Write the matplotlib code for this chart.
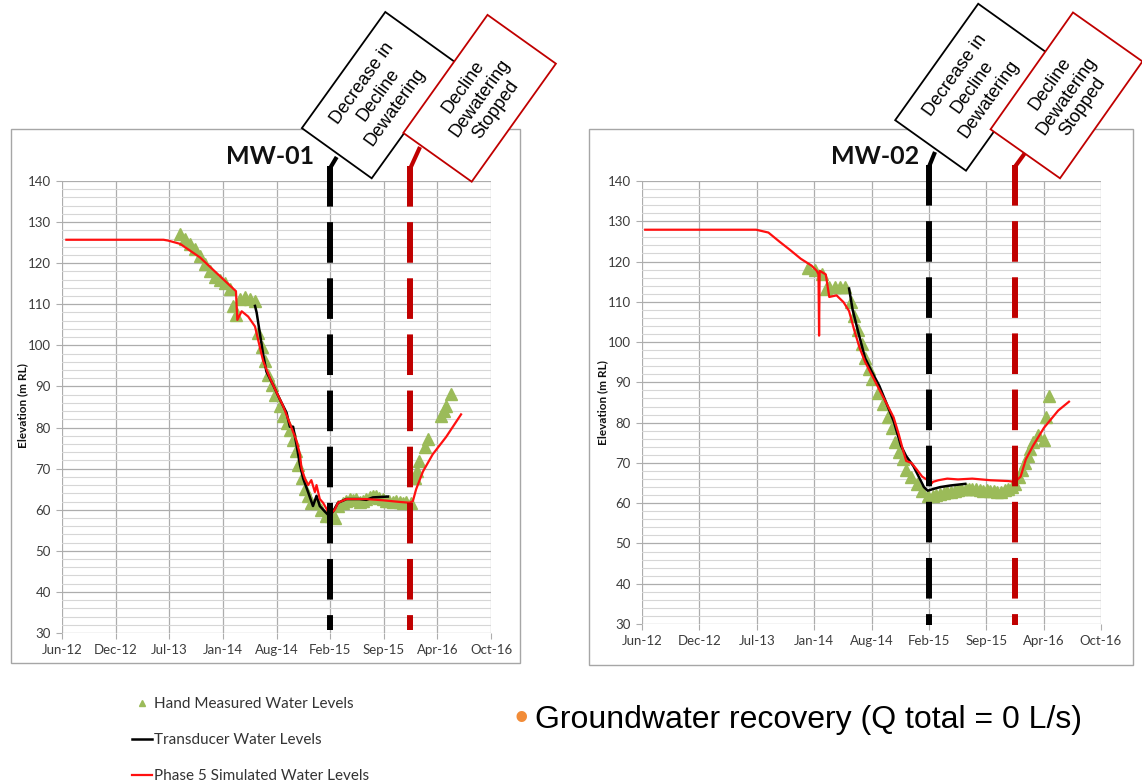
import numpy as np
import matplotlib
matplotlib.use('Agg')
import matplotlib.pyplot as plt
import matplotlib.dates as mdates
import matplotlib.transforms as mtransforms
from matplotlib.patches import Rectangle
from matplotlib.lines import Line2D

# date axis: one label every 197 days from mid June 2012
axis_start = '2012-06-15'
tick_step_days = 197
tick_labels = ['Jun-12', 'Dec-12', 'Jul-13', 'Jan-14', 'Aug-14', 'Feb-15', 'Sep-15', 'Apr-16', 'Oct-16']
y_ticks = [30, 40, 50, 60, 70, 80, 90, 100, 110, 120, 130, 140]

decrease_date = '2015-02-25'
stopped_date = '2015-12-17'

# MW-01
mw01_sim_dates = ['2012-07-01', '2013-06-23', '2013-07-10', '2013-08-23', '2013-11-04', '2014-01-04',
                  '2014-03-06', '2014-03-16', '2014-03-21', '2014-04-06', '2014-04-30', '2014-05-25',
                  '2014-06-06', '2014-06-24', '2014-07-19', '2014-08-12', '2014-09-05', '2014-09-30',
                  '2014-10-24', '2014-11-06', '2014-11-12', '2014-11-24', '2014-12-06', '2014-12-18',
                  '2014-12-31', '2015-01-06', '2015-01-18', '2015-01-30', '2015-02-17', '2015-03-02',
                  '2015-03-14', '2015-03-26', '2015-04-26', '2015-07-08', '2015-09-07', '2015-11-07',
                  '2015-12-14', '2015-12-26', '2016-01-07', '2016-02-01', '2016-03-08', '2016-04-26',
                  '2016-06-20']
mw01_sim_levels = [125.7, 125.7, 125.5, 124.7, 121.4, 117.6,
                   113.8, 113.2, 106.2, 108.3, 107.0, 104.6,
                   101.2, 96.2, 92.0, 88.6, 85.3, 81.0,
                   76.9, 73.5, 70.1, 67.6, 66.0, 67.2,
                   64.3, 66.0, 62.6, 61.7, 59.6, 59.2,
                   60.0, 61.7, 62.6, 62.6, 62.3, 61.9,
                   61.7, 62.1, 65.0, 69.3, 73.5, 77.7,
                   83.2]
mw01_trans_dates = ['2014-05-25', '2014-05-31', '2014-06-12', '2014-06-24', '2014-07-06', '2014-07-31',
                    '2014-08-24', '2014-09-18', '2014-09-30', '2014-10-12', '2014-10-24', '2014-11-06',
                    '2014-11-18', '2014-12-06', '2014-12-24', '2015-01-06', '2015-01-18', '2015-02-05',
                    '2015-02-23', '2015-03-08', '2015-03-26', '2015-04-26', '2015-06-13', '2015-07-08',
                    '2015-08-01', '2015-09-25']
mw01_trans_levels = [109.6, 108.0, 102.9, 97.8, 93.6, 90.3,
                     86.9, 83.6, 80.2, 80.2, 76.0, 71.0,
                     67.6, 64.3, 60.9, 63.4, 60.9, 59.6,
                     58.4, 59.6, 61.7, 62.6, 62.6, 62.4,
                     63.0, 63.2]
mw01_hand_dates = ['2013-08-23', '2013-09-10', '2013-09-28', '2013-10-17', '2013-11-04', '2013-11-22',
                   '2013-12-11', '2013-12-29', '2014-01-16', '2014-02-04', '2014-02-22', '2014-03-06',
                   '2014-03-18', '2014-03-31', '2014-04-18', '2014-05-06', '2014-05-25', '2014-06-06',
                   '2014-06-18', '2014-06-30', '2014-07-12', '2014-07-25', '2014-08-06', '2014-08-24',
                   '2014-09-05', '2014-09-18', '2014-09-30', '2014-10-12', '2014-10-24', '2014-10-30',
                   '2014-11-12', '2014-11-24', '2014-12-06', '2014-12-18', '2015-01-06', '2015-01-24',
                   '2015-02-11', '2015-03-02', '2015-03-14', '2015-03-26', '2015-04-13', '2015-04-25',
                   '2015-05-08', '2015-05-20', '2015-06-01', '2015-06-14', '2015-06-26', '2015-07-08',
                   '2015-07-20', '2015-08-01', '2015-08-13', '2015-08-25', '2015-09-07', '2015-09-19',
                   '2015-10-01', '2015-10-14', '2015-10-26', '2015-11-07', '2015-11-19', '2015-12-01',
                   '2015-12-20', '2016-01-01', '2016-01-10', '2016-01-19', '2016-02-07', '2016-02-19',
                   '2016-04-08', '2016-04-17', '2016-04-26', '2016-05-14']
mw01_hand_levels = [127.2, 126.0, 124.7, 123.5, 121.8, 119.7,
                    118.0, 116.7, 115.9, 115.1, 113.8, 109.6,
                    107.5, 111.3, 111.7, 111.3, 110.9, 102.9,
                    99.5, 96.2, 92.8, 90.3, 87.8, 85.3,
                    82.7, 81.0, 79.4, 76.9, 74.3, 71.0,
                    67.6, 65.1, 63.4, 61.7, 61.7, 60.0,
                    58.4, 58.4, 58.0, 60.9, 61.7, 62.2,
                    62.6, 62.4, 62.6, 62.0, 62.2, 62.5,
                    63.0, 63.3, 63.4, 62.8, 62.6, 62.1,
                    62.2, 61.9, 62.2, 61.8, 61.7, 61.9,
                    61.7, 67.6, 69.5, 71.8, 75.2, 77.3,
                    82.7, 84.0, 85.3, 88.2]

# MW-02
mw02_sim_dates = ['2012-06-26', '2013-07-12', '2013-08-23', '2013-09-29', '2013-11-05', '2013-12-12',
                  '2014-01-18', '2014-02-05', '2014-02-11', '2014-02-13', '2014-02-15', '2014-03-08',
                  '2014-03-20', '2014-04-14', '2014-05-08', '2014-05-27', '2014-06-14', '2014-07-02',
                  '2014-07-21', '2014-08-14', '2014-09-08', '2014-10-03', '2014-10-27', '2014-11-14',
                  '2014-11-27', '2014-12-09', '2014-12-27', '2015-01-15', '2015-02-02', '2015-02-21',
                  '2015-03-05', '2015-03-11', '2015-03-30', '2015-04-29', '2015-06-05', '2015-07-24',
                  '2015-09-24', '2015-11-24', '2015-12-18', '2016-01-06', '2016-01-24', '2016-02-18',
                  '2016-03-26', '2016-05-14', '2016-06-20']
mw02_sim_levels = [127.9, 127.9, 127.2, 125.0, 122.9, 120.7,
                   119.0, 117.7, 116.8, 101.6, 117.7, 116.8,
                   111.2, 111.6, 109.9, 107.7, 102.9, 98.6,
                   95.1, 91.7, 88.2, 84.7, 81.3, 77.0,
                   73.5, 70.5, 70.0, 68.3, 66.6, 65.7,
                   64.8, 65.3, 65.7, 66.1, 65.9, 66.1,
                   65.7, 65.5, 65.3, 66.6, 70.9, 74.3,
                   78.7, 83.0, 85.2]
mw02_trans_dates = ['2014-05-27', '2014-06-08', '2014-06-26', '2014-07-21', '2014-08-14', '2014-09-08',
                    '2014-10-03', '2014-10-27', '2014-11-21', '2014-12-09', '2015-01-03', '2015-01-21',
                    '2015-02-08', '2015-02-21', '2015-03-11', '2015-04-05', '2015-05-11', '2015-06-30']
mw02_trans_levels = [113.3, 108.1, 102.9, 96.0, 92.5, 89.1,
                     84.7, 80.4, 74.3, 71.7, 69.2, 66.6,
                     64.0, 63.1, 63.5, 64.0, 64.4, 64.8]
mw02_hand_dates = ['2014-01-05', '2014-01-30', '2014-02-24', '2014-03-08', '2014-03-20', '2014-04-08',
                   '2014-04-26', '2014-05-14', '2014-06-02', '2014-06-14', '2014-06-26', '2014-07-09',
                   '2014-07-21', '2014-08-02', '2014-08-14', '2014-09-02', '2014-09-20', '2014-10-09',
                   '2014-10-21', '2014-11-02', '2014-11-14', '2014-11-27', '2014-12-09', '2014-12-27',
                   '2015-01-15', '2015-02-02', '2015-02-21', '2015-03-11', '2015-03-23', '2015-04-05',
                   '2015-04-17', '2015-04-29', '2015-05-11', '2015-05-24', '2015-06-05', '2015-06-17',
                   '2015-07-01', '2015-07-12', '2015-07-24', '2015-08-06', '2015-08-18', '2015-08-30',
                   '2015-09-12', '2015-09-24', '2015-10-06', '2015-10-18', '2015-10-30', '2015-11-12',
                   '2015-11-24', '2015-12-06', '2015-12-18', '2015-12-30', '2016-01-12', '2016-01-21',
                   '2016-01-30', '2016-02-08', '2016-02-18', '2016-03-07', '2016-03-26', '2016-04-01',
                   '2016-04-13']
mw02_hand_levels = [118.5, 118.0, 116.8, 113.3, 113.8, 113.8,
                    113.8, 113.8, 109.9, 106.4, 102.9, 99.5,
                    96.0, 93.4, 90.8, 87.3, 84.7, 81.3,
                    78.7, 75.2, 72.6, 70.9, 68.3, 66.6,
                    64.8, 63.1, 61.8, 61.8, 62.0, 62.2,
                    62.5, 62.7, 62.9, 63.1, 63.3, 63.5,
                    63.6, 63.5, 63.5, 63.4, 63.2, 63.1,
                    63.3, 63.0, 63.1, 62.9, 62.7, 63.2,
                    63.5, 64.0, 64.8, 66.5, 68.3, 70.0,
                    71.7, 73.5, 75.2, 77.0, 75.6, 81.3,
                    86.5]

series_names = ['Hand Measured Water Levels', 'Transducer Water Levels', 'Phase 5 Simulated Water Levels']
event_labels = ['Decrease in\nDecline\nDewatering', 'Decline\nDewatering\nStopped']
bullet_text = 'Groundwater recovery (Q total = 0 L/s)'

green = '#9BBB59'
dark_red = '#C00000'
label_color = '#3C3C3C'
chart_font = 'Lato'
box_font = 'Liberation Sans'

W, H = 1142, 784
fig = plt.figure(figsize=(W / 100, H / 100), dpi=100)
fig.patch.set_facecolor('white')
inch = fig.dpi_scale_trans


def at(x, y):
    # pixel position from the top left corner -> inches from bottom left
    return x / 100.0, (H - y) / 100.0


def dnum(dates):
    return mdates.date2num(np.array(dates, dtype='datetime64[D]'))


tick_pos = dnum(np.datetime64(axis_start) + np.arange(len(tick_labels)) * np.timedelta64(tick_step_days, 'D'))

# per chart layout (pixels): chart box, plot area, title, y label, event lines, callout boxes
panels = [
    dict(name='MW-01', frame=(11, 129, 520, 663), plot=(62, 181, 491, 633),
         title=(270, 157), ylab=(23, 406), line_top=166, line_bottom=630,
         boxes=[((371.7, 178.3), 143, 86, 54.3, 'black', (336.7, 157)),
                ((471.7, 181.7), 145, 84, 54.5, dark_red, (420, 147))],
         sim=(mw01_sim_dates, mw01_sim_levels), trans=(mw01_trans_dates, mw01_trans_levels),
         hand=(mw01_hand_dates, mw01_hand_levels)),
    dict(name='MW-02', frame=(589, 129, 1133, 665), plot=(642, 181, 1101, 624),
         title=(875, 157), ylab=(603, 403), line_top=165, line_bottom=625,
         boxes=[((966, 170.7), 143, 87, 54.5, 'black', (935, 152)),
                ((1060, 178.3), 143, 85, 54.8, dark_red, (1025, 153))],
         sim=(mw02_sim_dates, mw02_sim_levels), trans=(mw02_trans_dates, mw02_trans_levels),
         hand=(mw02_hand_dates, mw02_hand_levels)),
]

handles = None
for p in panels:
    fx0, fy0, fx1, fy1 = p['frame']
    fig.add_artist(Rectangle(at(fx0, fy1), (fx1 - fx0) / 100, (fy1 - fy0) / 100, transform=inch,
                             fill=False, ec='#A6A6A6', lw=1.0, zorder=0))

    l, t, r, b = p['plot']
    ax = fig.add_axes([l / W, (H - b) / H, (r - l) / W, (b - t) / H])
    ax.set_facecolor('white')

    hand, = ax.plot(dnum(p['hand'][0]), p['hand'][1], linestyle='none', marker='^', ms=9,
                    color=green, mec=green, zorder=2)
    trans, = ax.plot(dnum(p['trans'][0]), p['trans'][1], color='black', lw=1.8, zorder=3)
    sim, = ax.plot(dnum(p['sim'][0]), p['sim'][1], color='#FF1010', lw=1.6, zorder=4)
    if handles is None:
        handles = [hand, trans, sim]

    ax.set_xlim(tick_pos[0], tick_pos[-1])
    ax.set_ylim(y_ticks[0], y_ticks[-1])
    ax.set_xticks(tick_pos)
    ax.set_xticklabels(tick_labels)
    ax.set_yticks(y_ticks)
    ax.set_yticks(np.arange(y_ticks[0], y_ticks[-1] + 1, 2), minor=True)
    ax.grid(which='major', axis='both', color='#ADADAD', lw=0.9)
    ax.grid(which='minor', axis='y', color='#D6D6D6', lw=0.8)
    ax.set_axisbelow(True)
    for s in ax.spines.values():
        s.set_visible(False)
    ax.tick_params(which='major', length=4, color='#ADADAD', pad=4, labelcolor=label_color, labelsize=9.5)
    ax.tick_params(which='minor', length=0)
    for lab in ax.get_xticklabels() + ax.get_yticklabels():
        lab.set_family(chart_font)

    fig.text(p['title'][0] / W, 1 - p['title'][1] / H, p['name'], family=chart_font, weight='bold',
             fontsize=18, ha='center', va='center', color='#111111')
    fig.text(p['ylab'][0] / W, 1 - p['ylab'][1] / H, 'Elevation (m RL)', family=chart_font, weight='bold',
             fontsize=8.5, rotation=90, ha='center', va='center', color='#111111')

    # event lines, running up past the plot to the callouts
    blend = mtransforms.blended_transform_factory(ax.transData, ax.transAxes)
    top_frac = (b - p['line_top']) / (b - t)
    bot_frac = (b - p['line_bottom']) / (b - t)
    for date, box, text in zip([decrease_date, stopped_date], p['boxes'], event_labels):
        anchor, bw, bh, ang, ec, lead_end = box
        xd = dnum([date])[0]
        ax.plot([xd, xd], [top_frac, bot_frac], transform=blend, clip_on=False, color=ec, lw=4.3,
                dashes=(6.8, 2.6), dash_capstyle='butt', zorder=6)
        xpx = ax.transData.transform((xd, 0))[0]
        fig.add_artist(Line2D([xpx / 100, lead_end[0] / 100],
                              [(H - p['line_top'] - 2) / 100, (H - lead_end[1]) / 100],
                              transform=inch, color=ec, lw=3, solid_capstyle='butt', zorder=5))

        ax0, ay0 = at(*anchor)
        fig.add_artist(Rectangle((ax0, ay0), bw / 100, bh / 100, angle=ang, transform=inch,
                                 fc='white', ec=ec, lw=1.3, zorder=7))
        rad = np.radians(ang)
        cx = ax0 + (bw / 2 * np.cos(rad) - bh / 2 * np.sin(rad)) / 100
        cy = ay0 + (bw / 2 * np.sin(rad) + bh / 2 * np.cos(rad)) / 100
        fig.text(cx, cy, text, transform=inch, family=box_font, fontsize=13, rotation=ang,
                 rotation_mode='anchor', ha='center', va='center', multialignment='center',
                 linespacing=1.25, color='black', zorder=8)

fig.legend(handles, series_names, loc='upper left', bbox_to_anchor=(132 / W, 1 - 697 / H),
           frameon=False, handlelength=1.3, handletextpad=0.15, labelspacing=1.45,
           borderpad=0, borderaxespad=0, markerscale=0.45,
           prop={'family': chart_font, 'size': 11}, labelcolor='#333333')

fig.text(521 / W, 1 - 720 / H, '\u2022', fontsize=28, color='#F28C38', ha='center', va='center',
         family=box_font)
fig.text(535 / W, 1 - 720 / H, bullet_text, fontsize=23, color='black', ha='left', va='center',
         family=box_font)

fig.savefig('out.png', dpi=100, facecolor='white')
